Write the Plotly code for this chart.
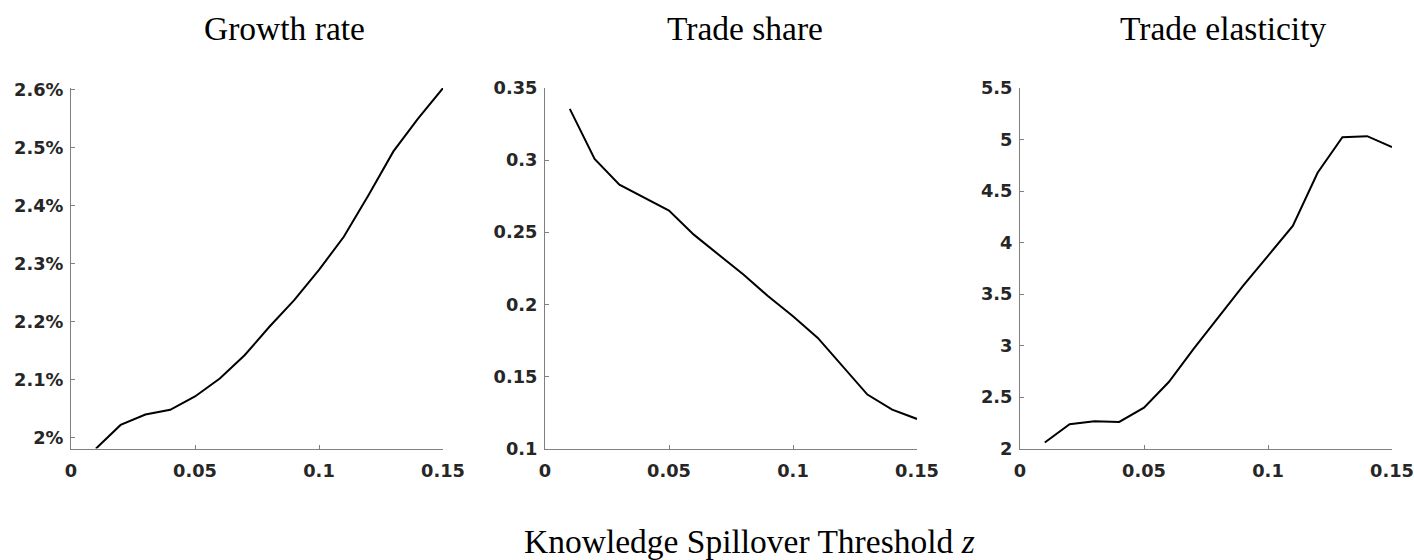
import plotly.graph_objects as go

# ---- data ----
z = [0.01, 0.02, 0.03, 0.04, 0.05, 0.06, 0.07, 0.08, 0.09, 0.10, 0.11, 0.12, 0.13, 0.14, 0.15]
growth_rate = [1.981, 2.022, 2.040, 2.048, 2.071, 2.102, 2.142, 2.191, 2.237, 2.289, 2.346, 2.418, 2.493, 2.550, 2.602]
trade_share = [0.3355, 0.3008, 0.2830, 0.2738, 0.2650, 0.2483, 0.2345, 0.2206, 0.2056, 0.1917, 0.1767, 0.1570, 0.1374, 0.1270, 0.1205]
trade_elasticity = [2.058, 2.235, 2.265, 2.258, 2.397, 2.645, 2.968, 3.274, 3.581, 3.871, 4.161, 4.677, 5.023, 5.032, 4.926]

titles = ["Growth rate", "Trade share", "Trade elasticity"]
x_label = "Knowledge Spillover Threshold <i>z</i>"

x_ticks = [0, 0.05, 0.1, 0.15]
x_ticklabels = ["0", "0.05", "0.1", "0.15"]
growth_ticks = [2.0, 2.1, 2.2, 2.3, 2.4, 2.5, 2.6]
growth_ticklabels = ["2%", "2.1%", "2.2%", "2.3%", "2.4%", "2.5%", "2.6%"]
share_ticks = [0.1, 0.15, 0.2, 0.25, 0.3, 0.35]
share_ticklabels = ["0.1", "0.15", "0.2", "0.25", "0.3", "0.35"]
elas_ticks = [2, 2.5, 3, 3.5, 4, 4.5, 5, 5.5]
elas_ticklabels = ["2", "2.5", "3", "3.5", "4", "4.5", "5", "5.5"]

# ---- layout ----
W, H = 1414, 560
x_doms = [(71, 443), (545, 917), (1020, 1392)]
y_dom = (1 - 448.5 / H, 1 - 88 / H)
y_ranges = [(1.9814, 2.6022), (0.1, 0.35), (2.0, 5.5)]

tick_font = dict(family="DejaVu Sans", size=17.8, color="#262626", weight="bold")
axis_col = "#808080"
serif = "Liberation Serif"

fig = go.Figure()
series = [growth_rate, trade_share, trade_elasticity]
yticks = [(growth_ticks, growth_ticklabels), (share_ticks, share_ticklabels), (elas_ticks, elas_ticklabels)]

for i, ys in enumerate(series):
    sfx = "" if i == 0 else str(i + 1)
    fig.add_trace(go.Scatter(x=z, y=ys, mode="lines", line=dict(color="black", width=2),
                             xaxis="x" + sfx, yaxis="y" + sfx, showlegend=False, cliponaxis=True))
    common = dict(showline=True, linecolor=axis_col, linewidth=1, ticks="inside", ticklen=4,
                  tickwidth=1, tickcolor=axis_col, showgrid=False, zeroline=False,
                  tickfont=tick_font, automargin=False)
    fig.layout["xaxis" + sfx] = dict(domain=[x_doms[i][0] / W, x_doms[i][1] / W], range=[0, 0.15],
                                     tickvals=x_ticks, ticktext=x_ticklabels, anchor="y" + sfx,
                                     ticklabelstandoff=6, **common)
    fig.layout["yaxis" + sfx] = dict(domain=list(y_dom), range=list(y_ranges[i]),
                                     tickvals=yticks[i][0], ticktext=yticks[i][1], anchor="x" + sfx,
                                     ticklabelstandoff=3, **common)

# titles
title_pos = [(367, "right"), (665, "left"), (1118, "left")]
for t, (px, anc) in zip(titles, title_pos):
    fig.add_annotation(text=t, x=px / W, y=1 - 28 / H, xref="paper", yref="paper",
                       xanchor=anc, yanchor="middle", showarrow=False,
                       font=dict(family=serif, size=33.5, color="black"))

fig.add_annotation(text=x_label, x=522 / W, y=1 - 541 / H, xref="paper", yref="paper",
                   xanchor="left", yanchor="middle", showarrow=False,
                   font=dict(family=serif, size=33.5, color="black"))

fig.update_layout(width=W, height=H, autosize=False,
                  margin=dict(l=0, r=0, t=0, b=0, pad=0, autoexpand=False),
                  paper_bgcolor="white", plot_bgcolor="white")

fig.write_html("out.html", config={"displayModeBar": False},
               post_script="document.body.style.margin='0';document.body.style.overflow='hidden';")
